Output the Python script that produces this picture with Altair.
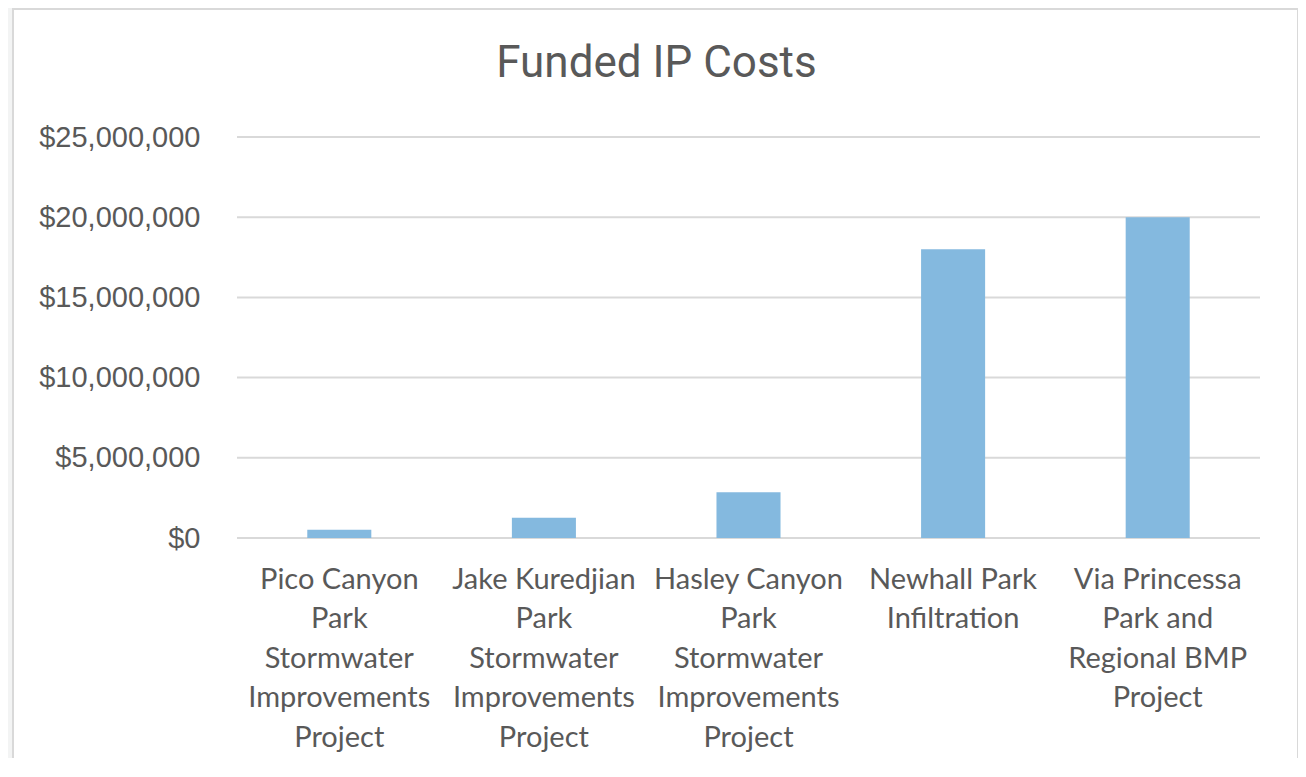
import altair as alt
import pandas as pd

# ---- data ----
projects = [
    "Pico Canyon Park Stormwater Improvements Project",
    "Jake Kuredjian Park Stormwater Improvements Project",
    "Hasley Canyon Park Stormwater Improvements Project",
    "Newhall Park Infiltration",
    "Via Princessa Park and Regional BMP Project",
]
costs = [520000, 1270000, 2850000, 18000000, 20000000]
label_lines = [
    ["Pico Canyon", "Park", "Stormwater", "Improvements", "Project"],
    ["Jake Kuredjian", "Park", "Stormwater", "Improvements", "Project"],
    ["Hasley Canyon", "Park", "Stormwater", "Improvements", "Project"],
    ["Newhall Park", "Infiltration"],
    ["Via Princessa", "Park and", "Regional BMP", "Project"],
]
y_ticks = [0, 5000000, 10000000, 15000000, 20000000, 25000000]
chart_title = "Funded IP Costs"

# ---- layout / style ----
W, H = 1023, 401
TEXT = "#595959"
GRID = "#d9d9d9"
BAR = "#84b9df"

bars_df = pd.DataFrame({"project": projects, "cost": costs})
grid_df = pd.DataFrame({"tick": y_ticks})
frame_df = pd.DataFrame({"k": [0]})


def js_list(lines):
    return "[" + ",".join("'" + s + "'" for s in lines) + "]"


label_expr = "datum.label"
for p, lines in reversed(list(zip(projects, label_lines))):
    label_expr = f"datum.label === '{p}' ? {js_list(lines)} : ({label_expr})"

y_scale = alt.Scale(domain=[0, 25000000], nice=False)
y_axis = alt.Axis(
    title=None,
    values=y_ticks,
    format="$,.0f",
    labelFont="Liberation Sans",
    labelFontSize=29,
    labelColor=TEXT,
    labelPadding=37,
    domain=False,
    ticks=False,
    grid=False,
    zindex=1,
)

frame = alt.Chart(frame_df).mark_rect(
    fill="white", stroke=GRID, strokeWidth=2
).encode(
    x=alt.value(-224), x2=alt.value(1061), y=alt.value(-128), y2=alt.value(660)
)

grid = alt.Chart(grid_df).mark_rule(color=GRID, strokeWidth=2).encode(
    y=alt.Y("tick:Q", scale=y_scale, axis=y_axis)
)

bars = alt.Chart(bars_df).mark_bar(color=BAR).encode(
    x=alt.X(
        "project:N",
        sort=projects,
        scale=alt.Scale(paddingInner=0.687, paddingOuter=0.3435),
        axis=alt.Axis(
            title=None,
            labelAngle=0,
            labelFont="Lato",
            labelFontSize=29,
            labelFontWeight="normal",
            labelColor=TEXT,
            labelLineHeight=39.5,
            labelPadding=27,
            labelLimit=400,
            labelOverlap=False,
            labelExpr=label_expr,
            domain=False,
            ticks=False,
            grid=False,
            zindex=1,
        ),
    ),
    y=alt.Y("cost:Q", scale=y_scale, axis=y_axis),
)

chart = (
    alt.layer(frame, grid, bars)
    .resolve_axis(y="shared")
    .properties(
        width=W,
        height=H,
        title=alt.TitleParams(
            chart_title,
            font="Roboto",
            fontSize=44,
            fontWeight="normal",
            color=TEXT,
            anchor="middle",
            frame="group",
            dx=-92,
            offset=-78,
        ),
        background="#f3f4f4",
        padding={"left": 229, "top": 129, "right": 38, "bottom": 220},
        autosize=alt.AutoSizeParams(type="none"),
    )
    .configure_view(stroke=None)
)

chart.save("out.html", embed_options={"renderer": "svg", "actions": False})
